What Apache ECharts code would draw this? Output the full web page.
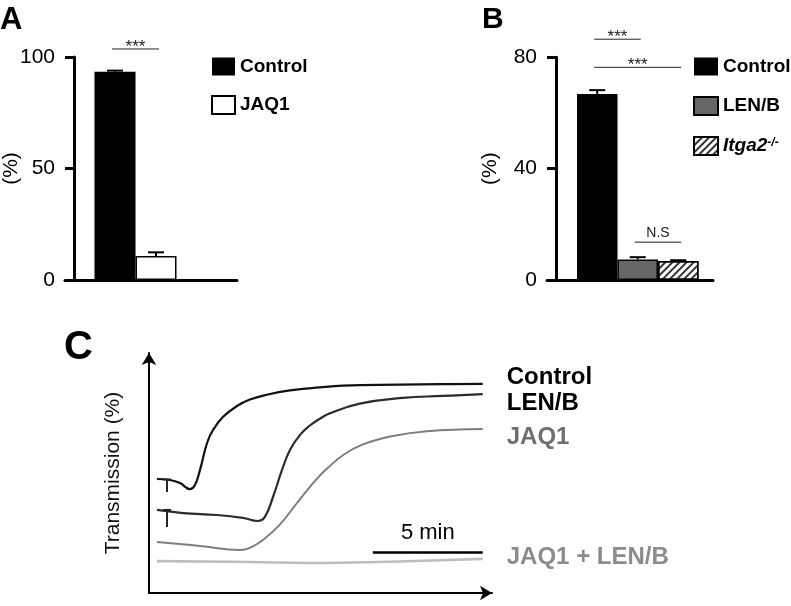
<!DOCTYPE html>
<html><head><meta charset="utf-8">
<script src="https://cdn.jsdelivr.net/npm/echarts@6/dist/echarts.min.js"></script>
<style>html,body{margin:0;padding:0;background:#fff}#c{width:791px;height:606px}</style>
</head><body><div id="c"></div>
<script>
// ---- Panel A ----
const panelACategories = ['Control', 'JAQ1'];
const panelAValues = [93.4, 10.8];
const panelAErrors = [0.5, 1.6];
const panelASig = [[0, 1, 103.6]];
const panelASigLabels = ['***'];

// ---- Panel B ----
const panelBCategories = ['Control', 'LEN/B', 'Itga2-/-'];
const panelBValues = [66.8, 7.4, 6.8];
const panelBErrors = [1.4, 0.8, 0.3];
const panelBSig = [[0, 1, 86.5], [0, 2, 76.4], [1, 2, 13.6]];
const panelBSigLabels = ['***', '***', 'N.S'];

// ---- Panel C (time in min, transmission in arbitrary %) ----
const traceNames = ['Control', 'LEN/B', 'JAQ1', 'JAQ1 + LEN/B'];
const traceControl = [[0.36,47.5],[0.95,47.1],[1.41,45.8],[1.86,43.3],[2.09,45.0],[2.32,51.3],[2.64,62.5],[2.91,67.9],[3.36,73.3],[4.00,77.9],[4.59,80.6],[5.36,82.6],[6.41,84.4],[7.77,85.7],[8.82,86.4],[11.41,86.8],[13.3,87.0],[15.18,87.1]];
const traceLenB = [[0.36,34.6],[1.55,33.3],[3.09,32.5],[4.27,31.3],[4.95,30.0],[5.27,31.7],[5.64,40.0],[6.05,51.3],[6.41,59.6],[6.86,65.8],[7.32,69.8],[7.77,72.6],[8.23,74.9],[9.59,78.9],[11.55,81.3],[13.36,82.1],[15.18,82.9]];
const traceJaq1 = [[0.36,21.3],[2.32,19.6],[4.14,17.9],[4.59,18.8],[5.18,22.1],[5.95,28.5],[6.73,37.5],[7.32,44.2],[7.77,48.9],[8.09,51.8],[8.82,57.4],[9.73,61.9],[11.09,65.4],[12.64,67.4],[15.18,68.3]];
const traceJaq1LenB = [[0.36,13.3],[4.59,12.9],[7.32,12.5],[10.36,12.9],[15.18,14.2]];
const injectionMarks = [[0.82, 47.3, 42.1], [0.82, 34.6, 27.5]];
const scaleBar = [10.18, 5, 17.1]; // start (min), length (min), level
const scaleBarLabel = '5 min';

const FONT = 'Liberation Sans, Arial, sans-serif';

function errRender(params, api) {
  const i = api.value(0), v = api.value(1), e = api.value(2);
  const base = api.coord([i, v]);
  const top = api.coord([i, v + e]);
  const hw = 8;
  return { type: 'group', children: [
    { type: 'line', shape: { x1: base[0], y1: base[1], x2: top[0], y2: top[1] }, style: { stroke: '#000', lineWidth: 2 } },
    { type: 'line', shape: { x1: top[0] - hw, y1: top[1], x2: top[0] + hw, y2: top[1] }, style: { stroke: '#000', lineWidth: 2 } }
  ]};
}
function sigRender(labels) {
  return function (params, api) {
    const a = api.coord([api.value(0), api.value(2)]);
    const b = api.coord([api.value(1), api.value(2)]);
    const txt = labels[params.dataIndex];
    const star = txt.indexOf('*') >= 0;
    return { type: 'group', children: [
      { type: 'line', shape: { x1: a[0] - 3, y1: a[1], x2: b[0] + 3, y2: b[1] }, style: { stroke: '#222', lineWidth: 1 } },
      { type: 'text', x: (a[0] + b[0]) / 2, y: a[1] + (star ? -2 : -9),
        style: { text: txt, align: 'center', verticalAlign: 'middle', fontSize: star ? 17 : 14, fill: '#222', fontFamily: FONT } }
    ]};
  };
}
function markRender(params, api) {
  const a = api.coord([api.value(0), api.value(1)]);
  const b = api.coord([api.value(0), api.value(2)]);
  return { type: 'group', children: [
    { type: 'line', shape: { x1: a[0], y1: a[1], x2: b[0], y2: b[1] }, style: { stroke: '#222', lineWidth: 2 } },
    { type: 'line', shape: { x1: a[0] - 4, y1: a[1], x2: a[0] + 4, y2: a[1] }, style: { stroke: '#222', lineWidth: 2 } }
  ]};
}

const oneHot = (vals, i) => vals.map((v, j) => (j === i ? v : '-'));

const lineAxis = (gi) => ({ type: 'value', gridIndex: gi, min: 0, max: 1,
  axisLine: { show: true, lineStyle: { color: '#000', width: 3 } },
  axisTick: { show: false }, axisLabel: { show: false }, splitLine: { show: false } });
const barYAxis = (gi, max, interval, offset, gap) => ({
  type: 'value', gridIndex: gi, min: 0, max: max, interval: interval, offset: offset,
  name: '(%)', nameLocation: 'middle', nameGap: gap, nameRotate: 90, nameMoveOverlap: false,
  nameTextStyle: { fontSize: 21, color: '#000', fontFamily: FONT },
  axisLine: { show: true, lineStyle: { color: '#000', width: 3 } },
  axisTick: { show: true, length: 9, lineStyle: { color: '#000', width: 3 } },
  axisLabel: { fontSize: 21, color: '#000', margin: 19, fontFamily: FONT },
  splitLine: { show: false }
});

const barAStyles = [
  { color: '#000' },
  { color: '#fff', borderColor: '#000', borderWidth: 1.5 }
];
const barBStyles = [
  { color: '#000' },
  { color: '#666', borderColor: '#000', borderWidth: 1.5 },
  { color: '#fff', borderColor: '#000', borderWidth: 1.5,
    decal: { symbol: 'rect', symbolSize: 1, dashArrayX: [1, 0], dashArrayY: [1.2, 2.3], rotation: -Math.PI / 4, color: '#333' } }
];

const series = [];
panelACategories.forEach((c, i) => series.push({
  type: 'bar', name: c, xAxisIndex: 0, yAxisIndex: 0, data: oneHot(panelAValues, i),
  barWidth: '100%', barGap: '-100%', itemStyle: barAStyles[i]
}));
series.push({ type: 'custom', xAxisIndex: 0, yAxisIndex: 0, clip: false, z: 5, renderItem: errRender,
  data: panelAValues.map((v, i) => [i, v, panelAErrors[i]]) });
series.push({ type: 'custom', xAxisIndex: 0, yAxisIndex: 0, clip: false, z: 5, renderItem: sigRender(panelASigLabels), data: panelASig });

panelBCategories.forEach((c, i) => series.push({
  type: 'bar', name: c, xAxisIndex: 2, yAxisIndex: 2, data: oneHot(panelBValues, i),
  barWidth: '100%', barGap: '-100%', itemStyle: barBStyles[i]
}));
series.push({ type: 'custom', xAxisIndex: 2, yAxisIndex: 2, clip: false, z: 5, renderItem: errRender,
  data: panelBValues.map((v, i) => [i, v, panelBErrors[i]]) });
series.push({ type: 'custom', xAxisIndex: 2, yAxisIndex: 2, clip: false, z: 5, renderItem: sigRender(panelBSigLabels), data: panelBSig });

const traces = [traceControl, traceLenB, traceJaq1, traceJaq1LenB];
const traceColors = ['#111', '#2b2b2b', '#7d7d7d', '#bdbdbd'];
const traceWidths = [2.2, 2.2, 2, 2.6];
const labelColors = ['#000', '#000', '#6f6f6f', '#8c8c8c'];
const labelDy = [-7, 9, 8, -2];
traces.forEach((d, i) => series.push({
  type: 'line', name: traceNames[i], xAxisIndex: 4, yAxisIndex: 4, data: d,
  showSymbol: false, smooth: 0.45,
  lineStyle: { color: traceColors[i], width: traceWidths[i] },
  itemStyle: { color: traceColors[i] },
  endLabel: { show: true, formatter: traceNames[i], distance: 24, offset: [0, labelDy[i]],
    fontSize: 24, fontWeight: 'bold', color: labelColors[i], fontFamily: FONT }
}));
series.push({ type: 'custom', xAxisIndex: 4, yAxisIndex: 4, clip: false, z: 5, renderItem: markRender, data: injectionMarks });
series.push({ type: 'line', xAxisIndex: 4, yAxisIndex: 4, data: [], silent: true,
  markLine: { silent: true, symbol: 'none', animation: false,
    lineStyle: { color: '#000', width: 2.5, type: 'solid' },
    label: { show: true, position: 'insideMiddleTop', formatter: scaleBarLabel, fontSize: 22, color: '#000', distance: 8, fontFamily: FONT },
    data: [[{ coord: [scaleBar[0], scaleBar[2]] }, { coord: [scaleBar[0] + scaleBar[1], scaleBar[2]] }]] } });

const legendText = { fontSize: 19, fontWeight: 'bold', color: '#000', fontFamily: FONT,
  rich: { i: { fontSize: 19, fontWeight: 'bold', fontStyle: 'italic', color: '#000', fontFamily: FONT },
          s: { fontSize: 12, fontWeight: 'bold', fontStyle: 'italic', color: '#000', verticalAlign: 'top', fontFamily: FONT } } };

const G = (o) => Object.assign({ outerBoundsMode: 'none', containLabel: false }, o);
const option = {
  animation: false,
  textStyle: { fontFamily: FONT },
  title: [
    { text: 'A', left: 0, top: 5, padding: 0, textStyle: { fontSize: 31, fontWeight: 'bold', color: '#000', fontFamily: FONT } },
    { text: 'B', left: 482, top: 5, padding: 0, textStyle: { fontSize: 30, fontWeight: 'bold', color: '#000', fontFamily: FONT } },
    { text: 'C', left: 64, top: 328, padding: 0, textStyle: { fontSize: 40, fontWeight: 'bold', color: '#000', fontFamily: FONT } }
  ],
  legend: [
    { left: 211, top: 57, orient: 'vertical', padding: 0, itemWidth: 23, itemHeight: 18, itemGap: 19,
      selectedMode: false, data: ['Control', 'JAQ1'], textStyle: legendText, icon: 'rect' },
    { left: 693, top: 57, orient: 'vertical', padding: 0, itemWidth: 24, itemHeight: 18, itemGap: 20,
      selectedMode: false, data: panelBCategories, textStyle: legendText, icon: 'rect',
      formatter: n => (n === 'Itga2-/-' ? '{i|Itga2}{s|-/-}' : n) }
  ],
  grid: [
    G({ left: 94.5, top: 57, width: 82, height: 223 }),
    G({ left: 65, top: 57, width: 172, height: 223 }),
    G({ left: 577, top: 57.3, width: 121.5, height: 222.7 }),
    G({ left: 547, top: 57.3, width: 166, height: 222.7 }),
    G({ left: 149, top: 353, width: 343, height: 240 })
  ],
  xAxis: [
    { type: 'category', gridIndex: 0, data: panelACategories, axisLine: { show: false }, axisTick: { show: false }, axisLabel: { show: false } },
    lineAxis(1),
    { type: 'category', gridIndex: 2, data: panelBCategories, axisLine: { show: false }, axisTick: { show: false }, axisLabel: { show: false } },
    lineAxis(3),
    { type: 'value', gridIndex: 4, min: 0, max: 15.6,
      axisLine: { show: true, symbol: ['none', 'arrow'], symbolSize: [11, 12], lineStyle: { color: '#000', width: 2 } },
      axisTick: { show: false }, axisLabel: { show: false }, splitLine: { show: false } }
  ],
  yAxis: [
    barYAxis(0, 100, 50, 20.5, 52),
    { type: 'value', gridIndex: 1, min: 0, max: 100, show: false },
    barYAxis(2, 80, 40, 21, 55),
    { type: 'value', gridIndex: 3, min: 0, max: 80, show: false },
    { type: 'value', gridIndex: 4, min: 0, max: 100,
      name: 'Transmission (%)', nameLocation: 'middle', nameGap: 25, nameRotate: 90, nameMoveOverlap: false,
      nameTextStyle: { fontSize: 21, color: '#111', fontFamily: FONT },
      axisLine: { show: true, symbol: ['none', 'arrow'], symbolSize: [11, 12], lineStyle: { color: '#000', width: 2 } },
      axisTick: { show: false }, axisLabel: { show: false }, splitLine: { show: false } }
  ],
  series: series
};
const chart = echarts.init(document.getElementById('c'), null, { renderer: 'canvas' });
chart.setOption(option);
</script></body></html>
